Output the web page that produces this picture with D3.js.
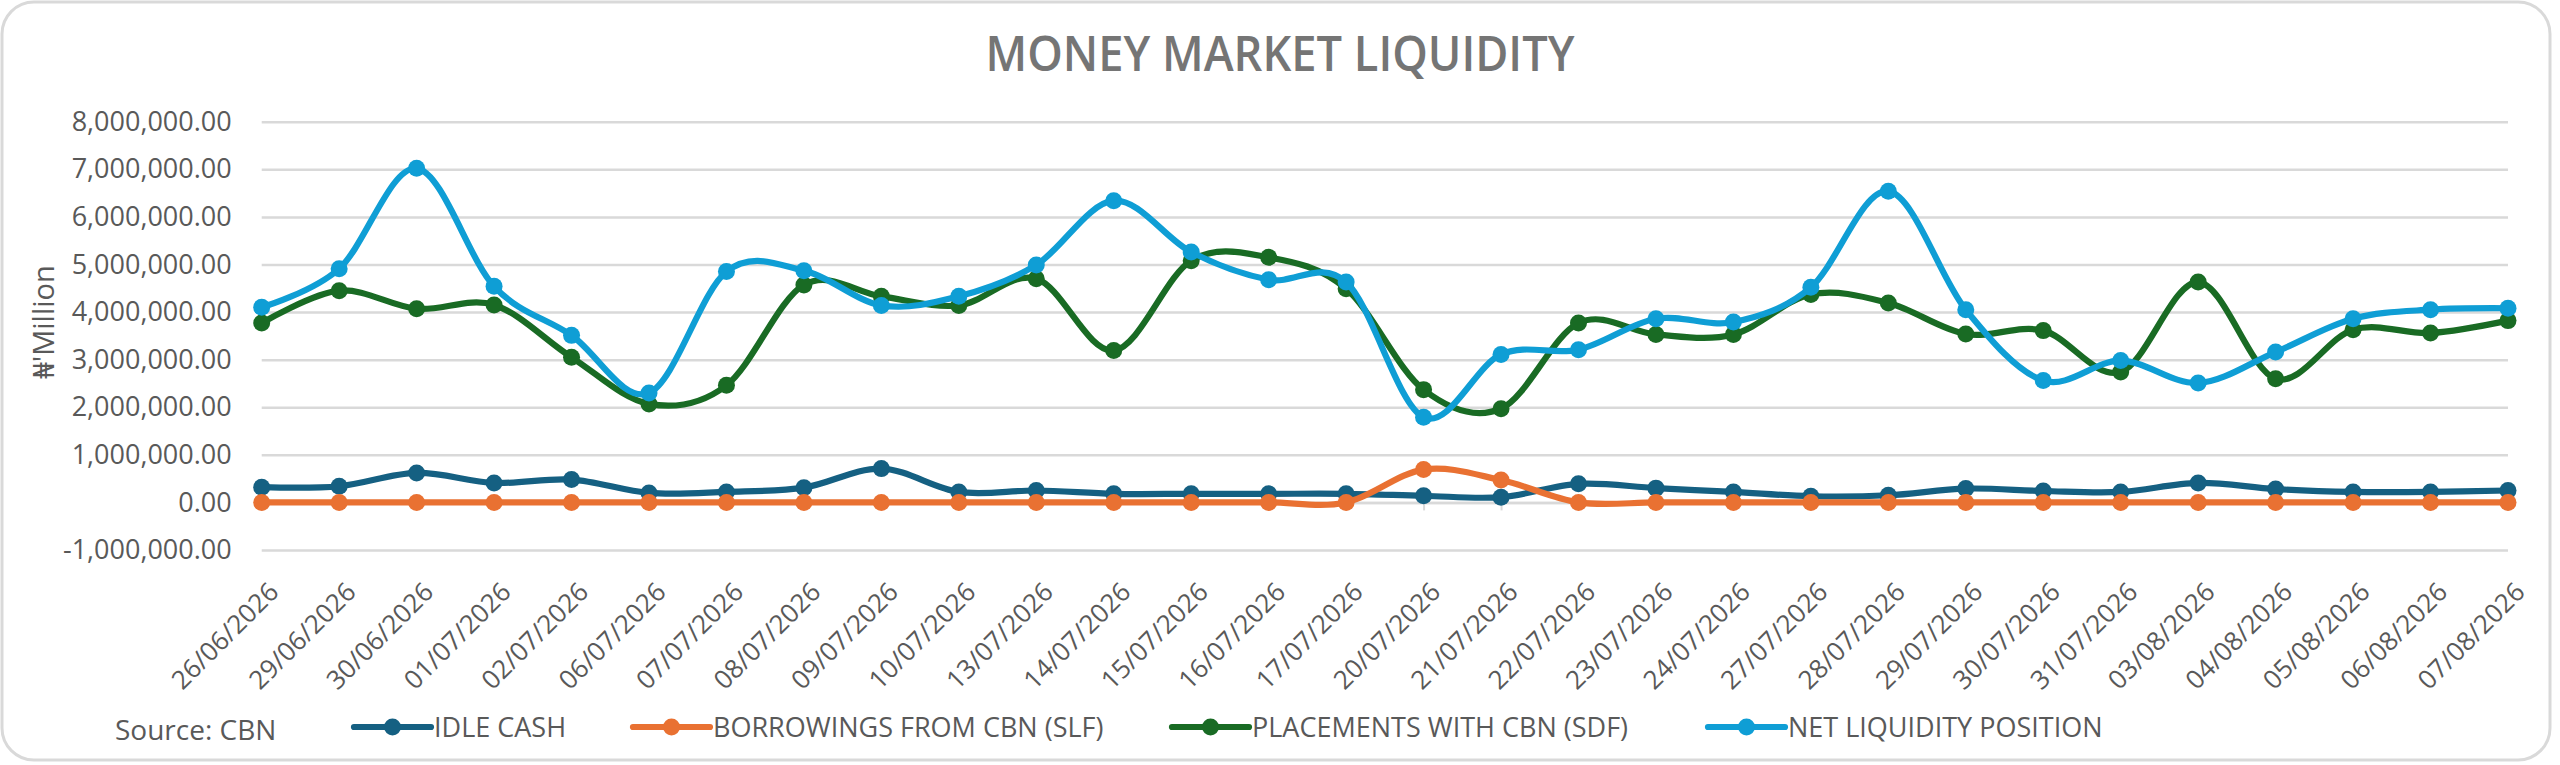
<!DOCTYPE html>
<html>
<head>
<meta charset="utf-8">
<script src="https://cdn.jsdelivr.net/npm/d3@7"></script>
<style>
  html, body { margin: 0; padding: 0; background: #ffffff; }
  svg { display: block; }
</style>
</head>
<body>
<svg id="chart" width="2560" height="765"></svg>
<script>
// ---------- DATA ----------
const categories = ["26/06/2026","29/06/2026","30/06/2026","01/07/2026","02/07/2026","06/07/2026","07/07/2026","08/07/2026","09/07/2026","10/07/2026","13/07/2026","14/07/2026","15/07/2026","16/07/2026","17/07/2026","20/07/2026","21/07/2026","22/07/2026","23/07/2026","24/07/2026","27/07/2026","28/07/2026","29/07/2026","30/07/2026","31/07/2026","03/08/2026","04/08/2026","05/08/2026","06/08/2026","07/08/2026"];

const idleCash = [320000,340000,620000,410000,480000,200000,220000,310000,710000,220000,250000,180000,180000,180000,180000,140000,110000,390000,300000,220000,130000,150000,290000,240000,220000,410000,280000,220000,220000,250000];

const borrowingsSLF = [0,0,0,0,0,0,0,0,0,0,0,0,0,0,0,690000,470000,0,0,0,0,0,0,0,0,0,0,0,0,0];

const placementsSDF = [3770000,4450000,4070000,4150000,3050000,2070000,2460000,4570000,4330000,4140000,4700000,3190000,5080000,5150000,4490000,2370000,1970000,3770000,3530000,3530000,4370000,4190000,3540000,3610000,2740000,4630000,2600000,3630000,3560000,3820000];

const netLiquidity = [4100000,4910000,7020000,4540000,3510000,2300000,4850000,4870000,4140000,4330000,4990000,6340000,5260000,4680000,4630000,1790000,3110000,3210000,3860000,3790000,4520000,6540000,4050000,2560000,2980000,2510000,3160000,3860000,4050000,4080000];

const yTicks = [-1000000,0,1000000,2000000,3000000,4000000,5000000,6000000,7000000,8000000];

const seriesNames = ["IDLE CASH","BORROWINGS FROM CBN (SLF)","PLACEMENTS WITH CBN (SDF)","NET LIQUIDITY POSITION"];
const seriesColors = ["#156082","#E97132","#196B24","#0F9ED5"];

const titleText = "MONEY MARKET LIQUIDITY";
const yAxisTitle = "\u20A6'Million";
const sourceText = "Source: CBN";

// ---------- SETUP ----------
const seriesValues = [idleCash, borrowingsSLF, placementsSDF, netLiquidity];
const series = seriesNames.map((n, i) => ({ name: n, color: seriesColors[i], values: seriesValues[i] }));

const svg = d3.select("#chart");
const FONT = "'Open Sans', 'Noto Sans', 'DejaVu Sans', sans-serif";
const TEXT = "#595959";
const LINE_W = 6.2;
const MARK_R = 8.5;

// Card
svg.append("rect")
  .attr("x", 2).attr("y", 2).attr("width", 2548).attr("height", 758)
  .attr("rx", 32).attr("ry", 32)
  .attr("fill", "#ffffff").attr("stroke", "#d9d9d9").attr("stroke-width", 3);

const x = d3.scalePoint().domain(categories).range([261.7, 2508]);
const y = d3.scaleLinear().domain([-1000000, 8000000]).range([550, 121.7]);

const locale = d3.formatLocale({ decimal: ".", thousands: ",", grouping: [3], currency: ["", ""], minus: "-" });
const fmt = locale.format(",.2f");

// Title
svg.append("text")
  .attr("x", 1280).attr("y", 71)
  .attr("text-anchor", "middle")
  .attr("font-family", FONT).attr("font-weight", 600).attr("font-size", 49)
  .attr("fill", "#757575")
  .attr("textLength", 589).attr("lengthAdjust", "spacingAndGlyphs")
  .text(titleText);

// Gridlines + y labels via axis
const yAxis = d3.axisLeft(y).tickValues(yTicks).tickSize(-(2508 - 261.7)).tickFormat(fmt).tickPadding(30);
const gy = svg.append("g").attr("transform", "translate(261.7,0)").call(yAxis);
gy.select(".domain").remove();
gy.selectAll(".tick line").attr("stroke", "#d9d9d9").attr("stroke-width", 2.5);
gy.selectAll(".tick text")
  .attr("font-family", FONT).attr("font-size", 27).attr("fill", TEXT);

// Category axis at zero (line + small ticks)
const xAxis = d3.axisBottom(x).tickSize(8).tickFormat("");
const gx = svg.append("g").attr("transform", `translate(0,${y(0)})`).call(xAxis);
gx.select(".domain").attr("stroke", "#d9d9d9").attr("stroke-width", 2.5);
gx.selectAll(".tick line").attr("stroke", "#d9d9d9").attr("stroke-width", 2);

// X tick labels (rotated, below the plot)
svg.append("g").selectAll("text")
  .data(categories).join("text")
  .attr("transform", d => `translate(${x(d) + 12},${587}) rotate(-45)`)
  .attr("text-anchor", "end")
  .attr("dy", "0.35em")
  .attr("font-family", FONT).attr("font-size", 26).attr("fill", TEXT)
  .text(d => d);

// Y axis title
svg.append("text")
  .attr("transform", "translate(54,322) rotate(-90)")
  .attr("text-anchor", "middle")
  .attr("font-family", FONT).attr("font-size", 29).attr("fill", TEXT)
  .text(yAxisTitle);

// Lines + markers
const line = d3.line()
  .x((d, i) => x(categories[i]))
  .y(d => y(d))
  .curve(d3.curveCatmullRom.alpha(0));

series.forEach(s => {
  const g = svg.append("g");
  g.append("path")
    .attr("d", line(s.values))
    .attr("fill", "none")
    .attr("stroke", s.color)
    .attr("stroke-width", LINE_W)
    .attr("stroke-linejoin", "round")
    .attr("stroke-linecap", "round");
  g.selectAll("circle")
    .data(s.values).join("circle")
    .attr("cx", (d, i) => x(categories[i]))
    .attr("cy", d => y(d))
    .attr("r", MARK_R)
    .attr("fill", s.color);
});

// Source
svg.append("text")
  .attr("x", 115).attr("y", 740)
  .attr("font-family", FONT).attr("font-size", 28).attr("fill", TEXT)
  .text(sourceText);

// Legend
const legendX = [354, 633, 1172, 1708];
const legendY = 727;
const lg = svg.append("g");
series.forEach((s, i) => {
  const gx0 = legendX[i];
  lg.append("line")
    .attr("x1", gx0).attr("x2", gx0 + 77)
    .attr("y1", legendY).attr("y2", legendY)
    .attr("stroke", s.color).attr("stroke-width", LINE_W).attr("stroke-linecap", "round");
  lg.append("circle")
    .attr("cx", gx0 + 38.5).attr("cy", legendY).attr("r", MARK_R).attr("fill", s.color);
  lg.append("text")
    .attr("x", gx0 + 80).attr("y", legendY + 10)
    .attr("font-family", FONT).attr("font-size", 27).attr("fill", TEXT)
    .text(s.name);
});
</script>
</body>
</html>
